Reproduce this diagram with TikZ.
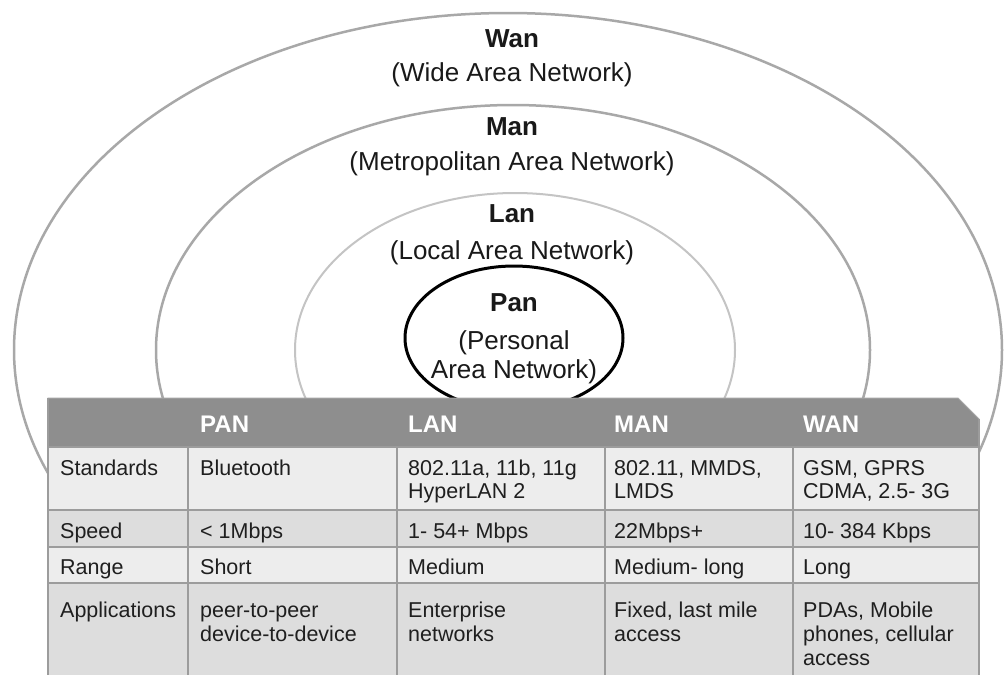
\documentclass[tikz,border=0pt]{standalone}
\usepackage{fontspec}
\setmainfont{Liberation Sans}
\definecolor{wangray}{HTML}{A8A8A8}
\definecolor{langray}{HTML}{C4C4C4}
\definecolor{hdgray}{HTML}{8E8E8E}
\definecolor{lightrow}{HTML}{EDEDED}
\definecolor{darkrow}{HTML}{DDDDDD}
\definecolor{linegray}{HTML}{9C9C9C}
\begin{document}
\begin{tikzpicture}[x=1pt,y=-1pt,
  ring/.style={line width=2.5pt, draw=wangray},
  lring/.style={line width=2pt, draw=langray},
  pring/.style={line width=3pt, draw=black},
  big/.style={font=\fontsize{26}{30}\selectfont, inner sep=0, anchor=base, text=black!90},
  bigb/.style={big, font=\fontsize{26}{30}\selectfont\bfseries},
  hd/.style={font=\fontsize{24}{28}\selectfont\bfseries, text=white, inner sep=0, anchor=base west},
  cell/.style={font=\fontsize{21.5}{24}\selectfont, text=black!88, inner sep=0, anchor=base west},
  gline/.style={draw=linegray, line width=2.5pt}]
\useasboundingbox (0,0) rectangle (1005,675);
\clip (0,0) rectangle (1005,675);
\fill[white] (0,0) rectangle (1005,675);
% rings
\draw[ring] (508,350) ellipse [x radius=494pt, y radius=337pt];
\draw[ring] (513,350) ellipse [x radius=357pt, y radius=245pt];
\draw[lring] (515,350) ellipse [x radius=220pt, y radius=157pt];
\draw[pring] (514,338) ellipse [x radius=109pt, y radius=72pt];
% ring labels
\node[bigb] (wan) at (512,47) {Wan};
\node[big] (wanf) at (512,81) {(Wide Area Network)};
\node[bigb] (man) at (512,135) {Man};
\node[big] (manf) at (512,170) {(Metropolitan Area Network)};
\node[bigb] (lan) at (512,222) {Lan};
\node[big] (lanf) at (512,259) {(Local Area Network)};
\node[bigb] (pan) at (514,311) {Pan};
\node[big] (panf1) at (514,349) {(Personal};
\node[big] (panf2) at (514,378) {Area Network)};
% table
\fill[lightrow] (48,447) rectangle (979,510);
\fill[darkrow] (48,510) rectangle (979,547);
\fill[lightrow] (48,547) rectangle (979,583);
\fill[darkrow] (48,583) rectangle (979,680);
\filldraw[fill=hdgray, draw=hdgray!80, line width=1pt] (48,398) -- (958,398) -- (979,419) -- (979,447) -- (48,447) -- cycle;
\foreach \yy in {447,510,547,583} \draw[gline] (48,\yy) -- (979,\yy);
\foreach \xx in {188,397,605,793} \draw[gline] (\xx,447) -- (\xx,680);
\draw[gline] (48,398) -- (48,680);
\draw[gline] (979,419) -- (979,680);
% header
\node[hd] (hpan) at (200,432) {PAN};
\node[hd] (hlan) at (408,432) {LAN};
\node[hd] (hman) at (614,432) {MAN};
\node[hd] (hwan) at (803,432) {WAN};
% row 1
\node[cell] (r1a) at (60,475) {Standards};
\node[cell] (r1b) at (200,475) {Bluetooth};
\node[cell] (r1c1) at (408,475) {802.11a, 11b, 11g};
\node[cell] (r1c2) at (408,498) {HyperLAN 2};
\node[cell] (r1d1) at (614,475) {802.11, MMDS,};
\node[cell] (r1d2) at (614,498) {LMDS};
\node[cell] (r1e1) at (803,475) {GSM, GPRS};
\node[cell] (r1e2) at (803,498) {CDMA, 2.5- 3G};
% row 2
\node[cell] (r2a) at (60,538) {Speed};
\node[cell] (r2b) at (200,538) {< 1Mbps};
\node[cell] (r2c) at (408,538) {1- 54+ Mbps};
\node[cell] (r2d) at (614,538) {22Mbps+};
\node[cell] (r2e) at (803,538) {10- 384 Kbps};
% row 3
\node[cell] (r3a) at (60,574) {Range};
\node[cell] (r3b) at (200,574) {Short};
\node[cell] (r3c) at (408,574) {Medium};
\node[cell] (r3d) at (614,574) {Medium- long};
\node[cell] (r3e) at (803,574) {Long};
% row 4
\node[cell] (r4a) at (60,617) {Applications};
\node[cell] (r4b1) at (200,617) {peer-to-peer};
\node[cell] (r4b2) at (200,641) {device-to-device};
\node[cell] (r4c1) at (408,617) {Enterprise};
\node[cell] (r4c2) at (408,641) {networks};
\node[cell] (r4d1) at (614,617) {Fixed, last mile};
\node[cell] (r4d2) at (614,641) {access};
\node[cell] (r4e1) at (803,617) {PDAs, Mobile};
\node[cell] (r4e2) at (803,641) {phones, cellular};
\node[cell] (r4e3) at (803,665) {access};
\end{tikzpicture}
\end{document}
